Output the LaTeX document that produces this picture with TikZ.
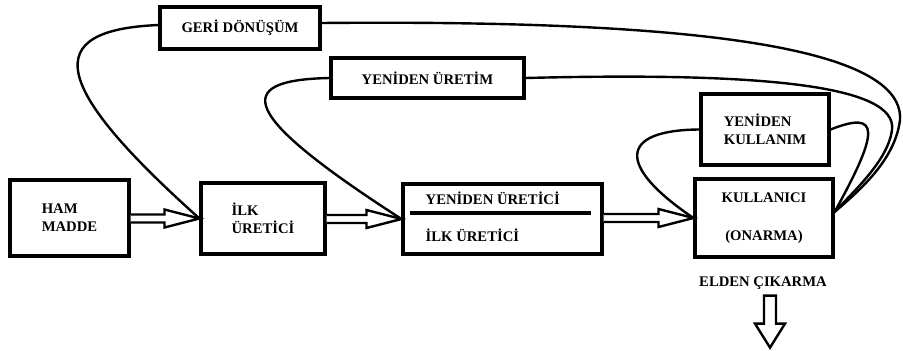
\documentclass[tikz,border=0pt]{standalone}
\usepackage{fontspec}
\setmainfont{Liberation Serif}
\usetikzlibrary{calc,positioning}
\tikzset{
    block/.style    = {draw, line width=2.3pt, inner sep=0pt, align=left,
            font=\bfseries\fontsize{11}{13.5}\selectfont},
    txt/.style      = {inner sep=0pt, font=\bfseries\fontsize{11}{13.5}\selectfont},
    backline/.style = {line width=1.8pt, line cap=round},
    hollow/.style   = {line width=1.8pt, fill=white, line join=miter},
}
\newcommand{\HollowArrow}[2]{% from, to
    \draw[hollow] ($(#1.east |- #2.west)+(0,-4)$) -- ($(#2.west)+(-35,-4)$)
        -- ($(#2.west)+(-35,-9)$) -- (#2.west) -- ($(#2.west)+(-35,9)$)
        -- ($(#2.west)+(-35,4)$) -- ($(#1.east |- #2.west)+(0,4)$);
}
\begin{document}
\begin{tikzpicture}[x=0.75pt,y=-0.75pt]
    \useasboundingbox (0,0) rectangle (903,350);
    % main chain
    \node[block, minimum width=119*0.75pt, minimum height=76*0.75pt] (ham) at (69.5,218) {HAM\\MADDE};
    \node[block, minimum width=124*0.75pt, minimum height=71*0.75pt] (ilk) at (263,218.5) {İLK\\ÜRETİCİ};
    \node[block, minimum width=199*0.75pt, minimum height=70*0.75pt] (mid) at (502.5,219) {};
    \node[block, align=center, minimum width=138*0.75pt, minimum height=78*0.75pt] (kul) at (764,218) {KULLANICI\\[15pt](ONARMA)};
    % loop boxes
    \node[block, minimum width=160*0.75pt, minimum height=42*0.75pt] (geri) at (240,28) {GERİ DÖNÜŞÜM};
    \node[block, minimum width=193*0.75pt, minimum height=40*0.75pt] (ure) at (427.5,78) {YENİDEN ÜRETİM};
    \node[block, minimum width=128*0.75pt, minimum height=71*0.75pt] (ykul) at (765,129.5) {YENİDEN\\KULLANIM};
    % split box texts
    \node[txt, anchor=west] (midtop) at ($(mid.west)+(24,-21)$) {YENİDEN ÜRETİCİ};
    \node[txt, anchor=west] (midbot) at ($(mid.west)+(24,16)$) {İLK ÜRETİCİ};
    \draw[line width=2.3pt] ($(mid.west)+(9,-6)$) -- ($(mid.east)+(-13,-6)$);
    \coordinate (kulin) at ($(kul.east)+(0,-6)$);
    % return lines
    \draw[backline] ($(geri.east)+(0,-5)$) .. controls (650,20) and (905,40) .. (900,120)
        .. controls (895,160) and (860,190) .. (kulin);
    \draw[backline] (ure.east) .. controls (760,72) and (898,85) .. (892,130)
        .. controls (888,160) and (855,190) .. (kulin);
    \draw[backline] (ykul.east) .. controls (880,110) and (880,130) .. (kulin);
    \draw[backline] ($(geri.west)+(0,-3)$) .. controls (40,30) and (50,85) .. (ilk.west);
    \draw[backline] (ure.west) .. controls (230,80) and (240,115) .. (mid.west);
    \draw[backline] (ykul.west) .. controls (620,130) and (615,165) .. (kul.west);
    % forward arrows
    \HollowArrow{ham}{ilk}
    \HollowArrow{ilk}{mid}
    \HollowArrow{mid}{kul}
    % disposal
    \node[txt] (elden) at (763,283) {ELDEN ÇIKARMA};
    \coordinate (dtop) at ($(elden.south)+(7,6)$);
    \draw[hollow] ($(dtop)+(-6,0)$) -- ($(dtop)+(-6,28)$) -- ($(dtop)+(-15,28)$)
        -- ($(dtop)+(0,52)$) -- ($(dtop)+(15,28)$) -- ($(dtop)+(6,28)$)
        -- ($(dtop)+(6,0)$) -- cycle;
\end{tikzpicture}
\end{document}
